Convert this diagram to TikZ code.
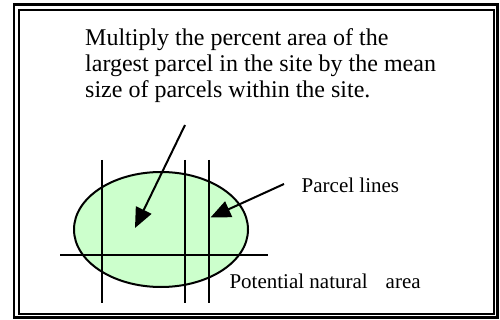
\documentclass[tikz,border=0pt]{standalone}
\usepackage{fontspec}
\setmainfont{Liberation Serif}
\usetikzlibrary{arrows.meta,shapes.geometric}
\definecolor{parcelgreen}{HTML}{CCFFCC}
\begin{document}
\begin{tikzpicture}[x=1pt,y=-1pt,
  frameline/.style={line width=2.2pt},
  gridline/.style={line width=1.5pt},
  pointer/.style={line width=2pt,-{Triangle[length=20pt,width=17pt]}},
  bigtext/.style={font=\fontsize{24}{26}\selectfont,inner sep=0pt,align=left},
  smalltext/.style={font=\fontsize{21}{24}\selectfont,inner sep=0pt}]
\useasboundingbox (0,0) rectangle (500,320);
\fill[white] (0,0) rectangle (500,320);
% double frame
\draw[frameline] (14,4.5) rectangle (497.5,317.5);
\draw[line width=2pt] (19,10) rectangle (494,313.5);
% ellipse area
\node[ellipse,draw,line width=2pt,fill=parcelgreen,minimum width=174pt,minimum height=115pt,inner sep=0pt] (area) at (161,229.5) {};
% parcel lines
\coordinate (v1t) at (102,160); \coordinate (v1b) at (102,303);
\coordinate (v2t) at (185,160); \coordinate (v2b) at (185,303);
\coordinate (v3t) at (209,160); \coordinate (v3b) at (209,303);
\coordinate (hl) at (60,255); \coordinate (hr) at (268,255);
\draw[gridline] (v1t) -- (v1b);
\draw[gridline] (v2t) -- (v2b);
\draw[gridline] (v3t) -- (v3b);
\draw[gridline] (hl) -- (hr);
% texts
\node[bigtext,anchor=north west] (instr) at (85,28.5) {Multiply the percent area of the\\largest parcel in the site by the mean\\size of parcels within the site.};
\node[smalltext,anchor=base west] (plines) at (301.5,192.5) {Parcel lines};
\node[smalltext,anchor=base west] (pna) at (229.3,288.3) {Potential natural\hspace{18pt}area};
% arrows
\coordinate (a1s) at (185,125); \coordinate (a1e) at (135,228);
\coordinate (a2s) at (284,184); \coordinate (a2e) at (210.5,217.5);
\draw[pointer] (a1s) -- (a1e);
\draw[pointer] (a2s) -- (a2e);
\end{tikzpicture}
\end{document}
